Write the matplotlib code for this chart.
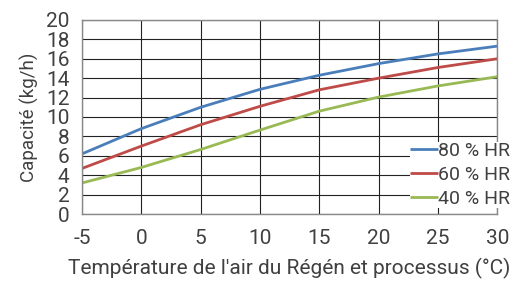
import matplotlib
matplotlib.use("Agg")
from matplotlib import pyplot as plt

temps = [-5, 0, 5, 10, 15, 20, 25, 30]
hr80 = [6.2, 8.8, 11.0, 12.85, 14.3, 15.5, 16.5, 17.3]
hr60 = [4.7, 7.0, 9.2, 11.1, 12.8, 14.0, 15.1, 16.0]
hr40 = [3.2, 4.8, 6.65, 8.65, 10.6, 12.05, 13.2, 14.15]
labels = ['80 % HR', '60 % HR', '40 % HR']
colors = ['#4a7ebb', '#be4b48', '#98b954']

plt.rcParams['font.family'] = ['Roboto', 'DejaVu Sans']
plt.rcParams['axes.unicode_minus'] = False
txt = '#404040'

fig = plt.figure(figsize=(5.19, 2.85), dpi=100)
ax = fig.add_axes([0.158, 0.249, 0.800, 0.681])

for vals, lab, col in zip([hr80, hr60, hr40], labels, colors):
    ax.plot(temps, vals, color=col, lw=2.0, label=lab, solid_capstyle='butt')

ax.set_xlim(-5, 30)
ax.set_ylim(0, 20)
ax.set_xticks(range(-5, 31, 5))
ax.set_yticks(range(0, 21, 2))
ax.grid(True, color='#222222', lw=0.8)
ax.set_axisbelow(True)
for s in ax.spines.values():
    s.set_color('#888888')
    s.set_linewidth(1.0)
ax.tick_params(length=0, labelsize=15, colors=txt)
ax.tick_params(axis='x', pad=11)
ax.tick_params(axis='y', pad=9)

ax.set_ylabel("Capacité (kg/h)", fontsize=13.5, color=txt, labelpad=5)
ax.set_xlabel("Température de l'air du Régén et processus (°C)", fontsize=15,
              color=txt, labelpad=7)

leg = ax.legend(loc='upper left', bbox_to_anchor=(0.79, 0.37), frameon=True,
                fontsize=14, handlelength=1.45, handletextpad=0.0,
                borderpad=0.0, labelspacing=0.3, borderaxespad=0.0)
leg.get_frame().set_facecolor('white')
leg.get_frame().set_edgecolor('none')
leg.get_frame().set_alpha(1.0)
for t in leg.get_texts():
    t.set_color(txt)

fig.savefig('out.png', dpi=100)
